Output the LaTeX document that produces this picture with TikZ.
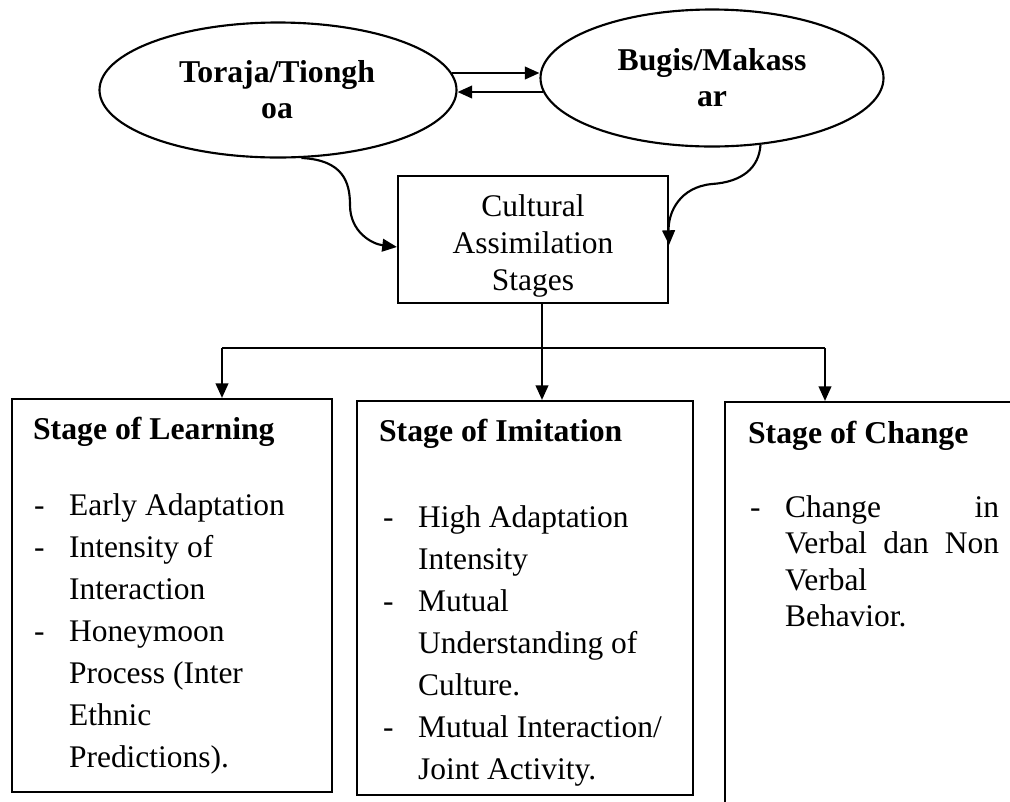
\documentclass[tikz,border=0pt]{standalone}
\usepackage{fontspec}
\setmainfont{Liberation Serif}
\usetikzlibrary{shapes.geometric,arrows.meta}
\begin{document}
\begin{tikzpicture}[x=0.75pt,y=-0.75pt,line width=1.6pt,
  tip/.style={-{Triangle[length=11pt,width=9.5pt]}},
  oval/.style={draw,ellipse,inner sep=0pt},
  box/.style={draw,rectangle,inner sep=0pt},
  ovaltext/.style={inner sep=0pt,anchor=base,text width=300pt,align=center,
    font=\fontsize{23.8}{27}\selectfont\bfseries},
  centertext/.style={inner sep=0pt,anchor=base,text width=200pt,align=center,
    font=\fontsize{23.6}{27.75}\selectfont},
  head/.style={inner sep=0pt,anchor=base west,font=\fontsize{23.8}{28}\selectfont\bfseries},
  listtext/.style={inner sep=0pt,anchor=base west,text width=#1,align=flush left,
    font=\fontsize{23.6}{31.6}\selectfont},
  listtextb/.style={inner sep=0pt,anchor=base west,text width=#1,align=flush left,
    font=\fontsize{23.6}{27.4}\selectfont},
]
\newcommand\bul{\makebox[26.25pt][l]{-}}
\newcommand\ind{\hspace*{26.25pt}}
\useasboundingbox (0,0) rectangle (1010,801);
\begin{scope}
\clip (0,0) rectangle (1010,801);

% ovals
\node[oval,minimum width=267.75pt,minimum height=101.25pt] (tor) at (278,90) {};
\node[oval,minimum width=257.25pt,minimum height=102.75pt] (bug) at (712,78) {};
\node[ovaltext] (tort) at (277,82) {Toraja/Tiongh\\oa};
\node[ovaltext] (bugt) at (712,70) {Bugis/Makass\\ar};

% centre box
\node[box,minimum width=202.5pt,minimum height=95.25pt] (cas) at (533,239.5) {};
\node[centertext] (cast) at (533,216) {Cultural\\Assimilation\\Stages};

% stage boxes
\node[box,minimum width=240pt,minimum height=294.75pt] (lea) at (172,595.5) {};
\node[box,minimum width=252pt,minimum height=295.5pt] (imi) at (525,598) {};
\node[box,minimum width=228.75pt,minimum height=309.75pt] (cha) at (877.5,608.5) {};

% texts in stage boxes
\node[head] (leah) at (32,439) {Stage of Learning};
\node[listtext=230pt] (leal) at (33,515) {\bul Early Adaptation\\
  \bul Intensity of\\ \ind Interaction\\
  \bul Honeymoon\\ \ind Process (Inter\\ \ind Ethnic\\ \ind Predictions).};

\node[head] (imih) at (378,441) {Stage of Imitation};
\node[listtext=240pt] (imil) at (382,527) {\bul High Adaptation\\ \ind Intensity\\
  \bul Mutual\\ \ind Understanding of\\ \ind Culture.\\
  \bul Mutual Interaction/\\ \ind Joint Activity.};

\node[head] (chah) at (747,443) {Stage of Change};
\node[listtextb=186.75pt] (chal) at (749,517) {\bul Change\hfill in\\
  \ind Verbal\hfill dan\hfill Non\\ \ind Verbal\\ \ind Behavior.};

% connectors between ovals
\coordinate (a1) at ([shift={(-6,-17)}]tor.east);
\coordinate (b1) at ([shift={(4,14)}]bug.west);
\draw[tip] (a1) -- (a1 -| bug.west);
\draw[tip] (b1) -- (b1 -| tor.east);

% curved arrows into centre box
\coordinate (inL) at ([yshift=-5.6pt]cas.west);
\coordinate (inR) at ([yshift=-4.1pt]cas.east);
\draw[tip] (tor.-71.8) .. controls (343,160) and (350,182) .. (350,205)
  .. controls (350,232) and (372,244) .. (inL);
\draw[tip] (bug.-54.5) .. controls (759,168) and (742,182) .. (712,184)
  .. controls (680,187) and (668,212) .. (inR);

% distribution to stage boxes
\coordinate (j) at (542,348);
\coordinate (l1) at (222,348);
\coordinate (l3) at (825,348);
\draw (cas.south -| j) -- (j);
\draw (l1) -- (l3);
\draw[tip] (l1) -- (l1 |- lea.north);
\draw[tip] (j) -- (j |- imi.north);
\draw[tip] (l3) -- (l3 |- cha.north);
\end{scope}
\end{tikzpicture}
\end{document}
